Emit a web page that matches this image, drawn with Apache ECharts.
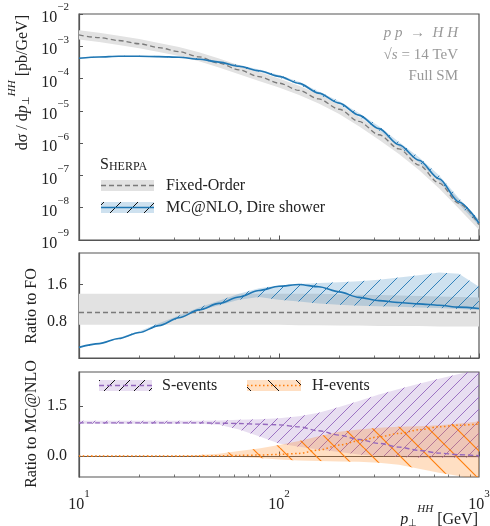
<!DOCTYPE html>
<html>
<head>
<meta charset="utf-8">
<script src="https://cdn.jsdelivr.net/npm/echarts@6/dist/echarts.min.js"></script>
<style>
html, body { margin: 0; padding: 0; background: #fff; }
#chart { width: 490px; height: 526px; }
</style>
</head>
<body>
<div id="chart"></div>
<script>
// pT bin centres (GeV)
var pT = [10, 12.6, 15.8, 20, 25.1, 31.6, 39.8, 50.1, 63.1, 79.4, 100, 126, 158, 200, 251, 316, 398, 501, 631, 794, 1000];
// top panel: d sigma / d pT [pb/GeV]
var fixedOrder = [2.24e-3, 1.86e-3, 1.51e-3, 1.20e-3, 9.1e-4, 6.8e-4, 4.7e-4, 3.0e-4, 1.86e-4, 1.15e-4, 7.2e-5, 4.3e-5, 2.34e-5, 1.12e-5, 4.7e-6, 1.82e-6, 6.6e-7, 2.1e-7, 5.8e-8, 1.35e-8, 3.0e-9];
var mcNlo = [4.27e-4, 4.68e-4, 4.9e-4, 4.9e-4, 4.8e-4, 4.57e-4, 3.98e-4, 3.24e-4, 2.4e-4, 1.74e-4, 1.17e-4, 7.1e-5, 3.55e-5, 1.74e-5, 7.4e-6, 2.82e-6, 8.9e-7, 2.95e-7, 7.9e-8, 1.51e-8, 3.3e-9];
// top panel MC@NLO band, relative to its central value
var mcTopRelLo = [0.97, 0.97, 0.97, 0.97, 0.97, 0.97, 0.96, 0.95, 0.94, 0.93, 0.92, 0.92, 0.91, 0.90, 0.90, 0.89, 0.88, 0.87, 0.86, 0.85, 0.85];
var mcTopRelHi = [1.04, 1.04, 1.04, 1.04, 1.05, 1.06, 1.07, 1.08, 1.09, 1.10, 1.11, 1.12, 1.13, 1.15, 1.17, 1.19, 1.22, 1.25, 1.28, 1.30, 1.30];
// middle panel: ratio to FO
var foBandLo = [0.73, 0.73, 0.73, 0.73, 0.73, 0.73, 0.73, 0.73, 0.73, 0.73, 0.73, 0.72, 0.72, 0.71, 0.71, 0.70, 0.70, 0.70, 0.69, 0.69, 0.69];
var foBandHi = [1.40, 1.40, 1.40, 1.40, 1.40, 1.40, 1.40, 1.40, 1.40, 1.40, 1.40, 1.40, 1.40, 1.39, 1.38, 1.37, 1.36, 1.35, 1.34, 1.33, 1.32];
var ratioMc = [0.24, 0.32, 0.43, 0.56, 0.71, 0.88, 1.05, 1.19, 1.33, 1.47, 1.56, 1.60, 1.55, 1.44, 1.32, 1.25, 1.21, 1.18, 1.15, 1.11, 1.08];
var ratioMcLo = [0.23, 0.31, 0.42, 0.55, 0.70, 0.87, 1.03, 1.15, 1.27, 1.33, 1.27, 1.23, 1.19, 1.16, 1.14, 1.13, 1.12, 1.10, 1.09, 1.07, 1.05];
var ratioMcHi = [0.25, 0.33, 0.45, 0.59, 0.76, 0.93, 1.10, 1.25, 1.40, 1.52, 1.58, 1.61, 1.63, 1.65, 1.67, 1.70, 1.75, 1.80, 1.86, 1.83, 1.55];
// bottom panel: ratio to MC@NLO
var sEvents = [1.00, 1.00, 1.00, 1.00, 1.00, 1.00, 1.00, 0.99, 0.98, 0.96, 0.94, 0.88, 0.76, 0.63, 0.50, 0.38, 0.27, 0.17, 0.09, 0.04, 0.01];
var sLo = [0.97, 0.97, 0.97, 0.97, 0.97, 0.97, 0.97, 0.94, 0.80, 0.60, 0.38, 0.28, 0.20, 0.12, 0.05, 0.00, -0.03, -0.05, -0.05, -0.05, -0.05];
var sHi = [1.06, 1.06, 1.06, 1.06, 1.06, 1.06, 1.06, 1.07, 1.09, 1.11, 1.14, 1.20, 1.30, 1.48, 1.66, 1.85, 2.02, 2.18, 2.33, 2.47, 2.60];
var hEvents = [0.00, 0.00, 0.00, 0.00, 0.00, 0.00, 0.00, 0.01, 0.02, 0.03, 0.05, 0.08, 0.18, 0.33, 0.46, 0.58, 0.68, 0.79, 0.88, 0.93, 0.96];
var hLo = [-0.01, -0.01, -0.01, -0.01, -0.01, -0.01, -0.01, -0.01, -0.03, -0.06, -0.10, -0.13, -0.15, -0.16, -0.17, -0.20, -0.26, -0.38, -0.50, -0.60, -0.70];
var hHi = [0.01, 0.01, 0.01, 0.01, 0.01, 0.01, 0.03, 0.07, 0.15, 0.23, 0.33, 0.45, 0.60, 0.73, 0.80, 0.85, 0.88, 0.90, 0.93, 0.98, 1.04];
// tick positions
var xMajor = [10, 100, 1000];
var xMinorTicks = [20, 30, 40, 50, 60, 70, 80, 90, 200, 300, 400, 500, 600, 700, 800, 900];
var topYTicks = [1e-2, 1e-3, 1e-4, 1e-5, 1e-6, 1e-7, 1e-8, 1e-9];
var foTicks = [0.8, 1.6];
var mcTicks = [0.0, 1.5];

var FONT = '"Liberation Serif", "Times New Roman", serif';
var TXT = '#222';
var FRAME = '#555';
var BLUE = '#1f77b4', PURPLE = '#9467bd', ORANGE = '#ff7f0e';

function hatch(size, color, lw, back) {
  var c = document.createElement('canvas');
  c.width = size; c.height = size;
  var g = c.getContext('2d');
  g.strokeStyle = color; g.lineWidth = lw;
  g.beginPath();
  for (var k = -1; k <= 1; k++) {
    if (back) { g.moveTo(k * size, 0); g.lineTo(k * size + size, size); }
    else { g.moveTo(k * size, size); g.lineTo(k * size + size, 0); }
  }
  g.stroke();
  return { image: c, repeat: 'repeat' };
}

var topFoLo = fixedOrder.map(function (v, i) { return v * foBandLo[i]; });
var topFoHi = fixedOrder.map(function (v, i) { return v * foBandHi[i]; });
var topMcLo = mcNlo.map(function (v, i) { return v * mcTopRelLo[i]; });
var topMcHi = mcNlo.map(function (v, i) { return v * mcTopRelHi[i]; });

function band(g, lo, hi, fill, hatchFill, z) {
  return {
    type: 'custom', xAxisIndex: g, yAxisIndex: g, z: z, silent: true,
    data: [[pT[0], hi[0]]],
    renderItem: function (params, api) {
      var pts = [];
      for (var i = 0; i < pT.length; i++) pts.push(api.coord([pT[i], hi[i]]));
      for (var j = pT.length - 1; j >= 0; j--) pts.push(api.coord([pT[j], lo[j]]));
      var cs = params.coordSys;
      var kids = [{ type: 'polygon', shape: { points: pts }, style: { fill: fill } }];
      if (hatchFill) kids.push({ type: 'polygon', shape: { points: pts }, style: { fill: hatchFill } });
      return { type: 'group', clipPath: { type: 'rect', shape: { x: cs.x, y: cs.y, width: cs.width, height: cs.height } }, children: kids };
    }
  };
}

function line(g, ys, color, width, dash, z) {
  return {
    type: 'line', xAxisIndex: g, yAxisIndex: g, z: z, silent: true,
    data: pT.map(function (p, i) { return [p, ys[i]]; }),
    showSymbol: false, smooth: 0.3, smoothMonotone: 'x',
    lineStyle: { color: color, width: width, type: dash }
  };
}

var supRich = {
  b: { fontFamily: FONT, fontSize: 16, color: TXT, lineHeight: 24, verticalAlign: 'bottom' },
  s: { fontFamily: FONT, fontSize: 11, color: TXT, lineHeight: 13, verticalAlign: 'top' }
};

function xMain(g, labels) {
  return {
    type: 'log', gridIndex: g, min: 10, max: 1000, logBase: 10, position: 'bottom',
    axisLine: { show: true, lineStyle: { color: FRAME, width: 1.2 } },
    axisTick: { show: true, inside: true, length: 4.5, customValues: xMajor, lineStyle: { color: FRAME, width: 1 } },
    axisLabel: {
      show: labels, customValues: xMajor, margin: 12,
      formatter: function (v) { return '{b|10}{s|' + Math.round(Math.log10(v)) + '}'; },
      rich: supRich
    },
    splitLine: { show: false }
  };
}
function xMinor(g) {
  return {
    type: 'log', gridIndex: g, min: 10, max: 1000, logBase: 10, position: 'bottom',
    axisLine: { show: false },
    axisTick: { show: true, inside: true, length: 2.5, customValues: xMinorTicks, lineStyle: { color: FRAME, width: 0.8 } },
    axisLabel: { show: false }, splitLine: { show: false }
  };
}
function yLin(g, min, max, ticks) {
  return {
    type: 'value', gridIndex: g, min: min, max: max,
    axisLine: { show: true, lineStyle: { color: FRAME, width: 1.2 } },
    axisTick: { show: true, inside: true, length: 4, customValues: ticks, lineStyle: { color: FRAME } },
    axisLabel: { customValues: ticks, margin: 12, fontFamily: FONT, fontSize: 16, color: TXT,
      formatter: function (v) { return v.toFixed(1); } },
    splitLine: { show: false }
  };
}

var grids = [
  { left: 79, top: 14, width: 400, height: 226 },
  { left: 79, top: 253, width: 400, height: 105 },
  { left: 79, top: 372, width: 400, height: 105 }
].map(function (g) {
  g.show = true; g.borderColor = FRAME; g.borderWidth = 1.2; g.outerBoundsMode = 'none'; g.containLabel = false;
  return g;
});

var txt = function (s, x, y, extra, rot) {
  var st = { text: s, x: 0, y: 0, fontFamily: FONT, fontSize: 16, fill: TXT, align: 'left', verticalAlign: 'middle' };
  for (var k in (extra || {})) st[k] = extra[k];
  return { type: 'text', x: x, y: y, z: 100, rotation: rot || 0, style: st };
};

var subSupRich = {
  r: { fontFamily: FONT, fontSize: 16, fill: TXT, lineHeight: 24, verticalAlign: 'bottom' },
  i: { fontFamily: FONT, fontSize: 16, fontStyle: 'italic', fill: TXT, lineHeight: 24, verticalAlign: 'bottom' },
  sb: { fontFamily: FONT, fontSize: 10, fill: TXT, lineHeight: 10, verticalAlign: 'bottom' },
  sp: { fontFamily: FONT, fontSize: 11, fontStyle: 'italic', fill: TXT, lineHeight: 13, verticalAlign: 'top' }
};

var blueHatch = hatch(15, BLUE, 0.9, false);
var purpleHatch = hatch(12, PURPLE, 0.9, false);
var orangeHatch = hatch(28, ORANGE, 1.2, true);

var option = {
  animation: false,
  backgroundColor: '#fff',
  grid: grids,
  xAxis: [xMain(0, false), xMain(1, false), xMain(2, true), xMinor(0), xMinor(1), xMinor(2)],
  yAxis: [
    {
      type: 'log', gridIndex: 0, min: 1e-9, max: 1e-2, logBase: 10,
      axisLine: { show: true, lineStyle: { color: FRAME, width: 1.2 } },
      axisTick: { show: true, inside: true, length: 4, customValues: topYTicks, lineStyle: { color: FRAME } },
      axisLabel: {
        customValues: topYTicks, margin: 10,
        formatter: function (v) { return '{b|10}{s|\u2212' + (-Math.round(Math.log10(v))) + '}'; },
        rich: supRich
      },
      splitLine: { show: false }
    },
    yLin(1, 0.01, 2.28, foTicks),
    yLin(2, -0.63, 2.53, mcTicks)
  ],
  series: [
    band(0, topFoLo, topFoHi, '#e2e2e2', null, 1),
    band(0, topMcLo, topMcHi, 'rgba(31,119,180,0.22)', blueHatch, 2),
    line(0, fixedOrder, '#7a7a7a', 1.3, [5, 3], 5),
    line(0, mcNlo, BLUE, 1.6, 'solid', 6),

    band(1, foBandLo, foBandHi, '#e2e2e2', null, 1),
    band(1, ratioMcLo, ratioMcHi, 'rgba(31,119,180,0.22)', blueHatch, 2),
    {
      type: 'line', xAxisIndex: 1, yAxisIndex: 1, data: [], z: 5, silent: true,
      markLine: { silent: true, symbol: 'none', label: { show: false }, animation: false,
        lineStyle: { color: '#7a7a7a', width: 1.3, type: [5, 3] }, data: [{ yAxis: 1 }] }
    },
    line(1, ratioMc, BLUE, 1.6, 'solid', 6),

    band(2, sLo, sHi, 'rgba(148,103,189,0.22)', purpleHatch, 1),
    band(2, hLo, hHi, 'rgba(255,127,14,0.25)', orangeHatch, 2),
    line(2, sEvents, PURPLE, 1.4, [5, 3], 5),
    line(2, hEvents, ORANGE, 1.5, [1.5, 2.5], 6)
  ],
  graphic: [
    // axis titles
    txt('{r|d\u03c3 / d}{i|p}{sb|\u22a5}{sp|HH}{r| [pb/GeV]}', 19, 15, { align: 'right', rich: subSupRich }, Math.PI / 2),
    txt('Ratio to FO', 32, 306, { align: 'center' }, Math.PI / 2),
    txt('Ratio to MC@NLO', 32, 424, { align: 'center' }, Math.PI / 2),
    txt('{i|p}{sb|\u22a5}{sp|HH}{r| [GeV]}', 478, 516, { align: 'right', rich: subSupRich }),
    // process labels
    txt('{i|p p}{r|  \u2192  }{i|H H}', 458, 33, { align: 'right', rich: {
      i: { fontFamily: FONT, fontSize: 15, fontStyle: 'italic', fill: '#999' },
      r: { fontFamily: FONT, fontSize: 15, fill: '#999' } } }),
    txt('{r|\u221a}{i|s}{r| = 14 TeV}', 458, 55, { align: 'right', rich: {
      i: { fontFamily: FONT, fontSize: 15, fontStyle: 'italic', fill: '#999' },
      r: { fontFamily: FONT, fontSize: 15, fill: '#999' } } }),
    txt('Full SM', 458, 76, { align: 'right', fontSize: 15, fill: '#999' }),
    // top legend
    txt('{a|S}{b|HERPA}', 100, 163, { rich: {
      a: { fontFamily: FONT, fontSize: 16, fill: TXT, lineHeight: 20, verticalAlign: 'bottom' },
      b: { fontFamily: FONT, fontSize: 12, fill: TXT, lineHeight: 16, verticalAlign: 'bottom' } } }),
    { type: 'rect', z: 100, shape: { x: 101, y: 180, width: 53, height: 11 }, style: { fill: '#e2e2e2' } },
    { type: 'line', z: 101, shape: { x1: 101, y1: 185.5, x2: 154, y2: 185.5 }, style: { stroke: '#7a7a7a', lineWidth: 1.3, lineDash: [5, 3] } },
    txt('Fixed-Order', 166, 185.5),
    { type: 'rect', z: 100, shape: { x: 101, y: 202, width: 53, height: 11 }, style: { fill: 'rgba(31,119,180,0.22)' } },
    { type: 'rect', z: 101, shape: { x: 101, y: 202, width: 53, height: 11 }, style: { fill: hatch(17, '#111', 1, false) } },
    { type: 'line', z: 102, shape: { x1: 101, y1: 207.5, x2: 154, y2: 207.5 }, style: { stroke: BLUE, lineWidth: 1.6 } },
    txt('MC@NLO, Dire shower', 166, 207.5),
    // bottom legend
    { type: 'rect', z: 100, shape: { x: 99, y: 380, width: 53, height: 11 }, style: { fill: 'rgba(148,103,189,0.22)' } },
    { type: 'rect', z: 101, shape: { x: 99, y: 380, width: 53, height: 11 }, style: { fill: hatch(15, '#111', 1, false) } },
    { type: 'line', z: 102, shape: { x1: 99, y1: 385.5, x2: 152, y2: 385.5 }, style: { stroke: PURPLE, lineWidth: 1.4, lineDash: [5, 3] } },
    txt('S-events', 162, 385.5),
    { type: 'rect', z: 100, shape: { x: 247, y: 380, width: 54, height: 11 }, style: { fill: 'rgba(255,127,14,0.25)' } },
    { type: 'rect', z: 101, shape: { x: 247, y: 380, width: 54, height: 11 }, style: { fill: hatch(28, '#111', 1, true) } },
    { type: 'line', z: 102, shape: { x1: 247, y1: 385.5, x2: 301, y2: 385.5 }, style: { stroke: ORANGE, lineWidth: 1.5, lineDash: [1.5, 2.5] } },
    txt('H-events', 312, 385.5)
  ]
};

var chart = echarts.init(document.getElementById('chart'));
chart.setOption(option);
</script>
</body>
</html>
